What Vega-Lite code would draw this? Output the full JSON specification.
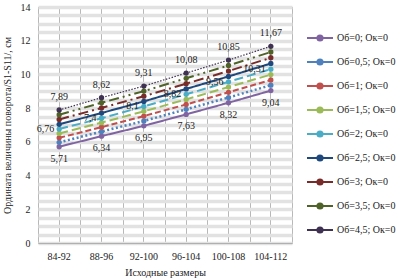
{
  "$schema": "https://vega.github.io/schema/vega-lite/v6.json",
  "autosize": "none",
  "width": 254,
  "height": 236,
  "padding": {"left": 38, "top": 7, "right": 106, "bottom": 35},
  "background": "white",
  "config": {
    "locale": {"number": {"decimal": ",", "thousands": " ", "grouping": [3], "currency": ["", ""]}},
    "view": {"stroke": "#b0b0b0", "fill": "white"},
    "font": "Liberation Serif",
    "axis": {"labelFont": "Liberation Serif", "titleFont": "Liberation Serif", "labelFontSize": 10, "titleFontSize": 10, "titleFontWeight": "normal", "labelColor": "#222", "titleColor": "#222"}
  },
  "data": {"values": [
    {"s": "Об=0; Ок=0", "x": "84-92", "v": 5.71}, {"s": "Об=0; Ок=0", "x": "88-96", "v": 6.34}, {"s": "Об=0; Ок=0", "x": "92-100", "v": 6.95}, {"s": "Об=0; Ок=0", "x": "96-104", "v": 7.63}, {"s": "Об=0; Ок=0", "x": "100-108", "v": 8.32}, {"s": "Об=0; Ок=0", "x": "104-112", "v": 9.04},
    {"s": "Об=0,5; Ок=0", "x": "84-92", "v": 5.97}, {"s": "Об=0,5; Ок=0", "x": "88-96", "v": 6.61}, {"s": "Об=0,5; Ок=0", "x": "92-100", "v": 7.24}, {"s": "Об=0,5; Ок=0", "x": "96-104", "v": 7.93}, {"s": "Об=0,5; Ок=0", "x": "100-108", "v": 8.63}, {"s": "Об=0,5; Ок=0", "x": "104-112", "v": 9.36},
    {"s": "Об=1; Ок=0", "x": "84-92", "v": 6.24}, {"s": "Об=1; Ок=0", "x": "88-96", "v": 6.87}, {"s": "Об=1; Ок=0", "x": "92-100", "v": 7.53}, {"s": "Об=1; Ок=0", "x": "96-104", "v": 8.22}, {"s": "Об=1; Ок=0", "x": "100-108", "v": 8.94}, {"s": "Об=1; Ок=0", "x": "104-112", "v": 9.67},
    {"s": "Об=1,5; Ок=0", "x": "84-92", "v": 6.5}, {"s": "Об=1,5; Ок=0", "x": "88-96", "v": 7.14}, {"s": "Об=1,5; Ок=0", "x": "92-100", "v": 7.81}, {"s": "Об=1,5; Ок=0", "x": "96-104", "v": 8.52}, {"s": "Об=1,5; Ок=0", "x": "100-108", "v": 9.25}, {"s": "Об=1,5; Ок=0", "x": "104-112", "v": 9.99},
    {"s": "Об=2; Ок=0", "x": "84-92", "v": 6.76}, {"s": "Об=2; Ок=0", "x": "88-96", "v": 7.4}, {"s": "Об=2; Ок=0", "x": "92-100", "v": 8.1}, {"s": "Об=2; Ок=0", "x": "96-104", "v": 8.82}, {"s": "Об=2; Ок=0", "x": "100-108", "v": 9.56}, {"s": "Об=2; Ок=0", "x": "104-112", "v": 10.31},
    {"s": "Об=2,5; Ок=0", "x": "84-92", "v": 7.04}, {"s": "Об=2,5; Ок=0", "x": "88-96", "v": 7.71}, {"s": "Об=2,5; Ок=0", "x": "92-100", "v": 8.4}, {"s": "Об=2,5; Ок=0", "x": "96-104", "v": 9.14}, {"s": "Об=2,5; Ок=0", "x": "100-108", "v": 9.88}, {"s": "Об=2,5; Ок=0", "x": "104-112", "v": 10.65},
    {"s": "Об=3; Ок=0", "x": "84-92", "v": 7.33}, {"s": "Об=3; Ок=0", "x": "88-96", "v": 8.01}, {"s": "Об=3; Ок=0", "x": "92-100", "v": 8.71}, {"s": "Об=3; Ок=0", "x": "96-104", "v": 9.45}, {"s": "Об=3; Ок=0", "x": "100-108", "v": 10.2}, {"s": "Об=3; Ок=0", "x": "104-112", "v": 10.99},
    {"s": "Об=3,5; Ок=0", "x": "84-92", "v": 7.61}, {"s": "Об=3,5; Ок=0", "x": "88-96", "v": 8.32}, {"s": "Об=3,5; Ок=0", "x": "92-100", "v": 9.01}, {"s": "Об=3,5; Ок=0", "x": "96-104", "v": 9.77}, {"s": "Об=3,5; Ок=0", "x": "100-108", "v": 10.53}, {"s": "Об=3,5; Ок=0", "x": "104-112", "v": 11.33},
    {"s": "Об=4,5; Ок=0", "x": "84-92", "v": 7.89}, {"s": "Об=4,5; Ок=0", "x": "88-96", "v": 8.62}, {"s": "Об=4,5; Ок=0", "x": "92-100", "v": 9.31}, {"s": "Об=4,5; Ок=0", "x": "96-104", "v": 10.08}, {"s": "Об=4,5; Ок=0", "x": "100-108", "v": 10.85}, {"s": "Об=4,5; Ок=0", "x": "104-112", "v": 11.67}
  ]},
  "encoding": {
    "y": {"field": "v", "type": "quantitative", "scale": {"domain": [0, 14], "nice": false},
      "axis": {"values": [0,0.5,1,1.5,2,2.5,3,3.5,4,4.5,5,5.5,6,6.5,7,7.5,8,8.5,9,9.5,10,10.5,11,11.5,12,12.5,13,13.5,14],
        "labelExpr": "datum.value % 2 == 0 ? format(datum.value, 'd') : ''", "ticks": false, "domain": false, "grid": true, "gridColor": "#e2e2e2", "gridWidth": 3.5, "labelPadding": 8,
        "title": "Ордината величины поворота/S1-S11/, см", "titlePadding": 8}}
  },
  "layer": [
    {
      "mark": {"type": "line"},
      "encoding": {
        "x": {"field": "x", "type": "ordinal", "sort": null, "scale": {"paddingInner": 0, "paddingOuter": 0},
          "axis": {"labelAngle": 0, "ticks": false, "grid": true, "gridColor": "#b8b8b8", "gridWidth": 1, "domainColor": "#b0b0b0", "labelPadding": 8, "title": "Исходные размеры", "titlePadding": 6}},
        "color": {"field": "s", "type": "nominal", "sort": null,
          "scale": {"range": ["#8064a2", "#4f81bd", "#c0504d", "#9bbb59", "#4bacc6", "#1f497d", "#772c2a", "#4f6228", "#3f3151"]},
          "legend": {"orient": "none", "legendX": 268, "legendY": 17, "title": null, "padding": 0,
            "symbolType": "M-1,0H1M-0.2,0A0.2,0.2,0,1,0,0.2,0A0.2,0.2,0,1,0,-0.2,0Z", "symbolSize": 676, "symbolStrokeWidth": 2,
            "labelFont": "Liberation Serif", "labelFontSize": 10, "labelColor": "#222", "labelOffset": 3, "rowPadding": 3, "labelLimit": 200,
            "encode": {"symbols": {"update": {"fill": {"scale": "color", "field": "value"}}}}}},
        "strokeDash": {"field": "s", "type": "nominal", "sort": null,
          "scale": {"range": [[1, 0], [2, 2.5], [6, 3], [9, 4], [9, 4], [1, 0], [10, 4, 2, 4], [10, 4, 2, 4, 2, 4], [1.5, 1.5]]},
          "legend": null},
        "strokeWidth": {"field": "s", "type": "ordinal", "sort": null,
          "scale": {"type": "ordinal", "range": [2, 2.5, 2, 2, 2, 2, 2, 2, 1.2]},
          "legend": null}
      }
    },
    {
      "mark": {"type": "point", "filled": true, "opacity": 1, "size": 28, "shape": "circle"},
      "encoding": {
        "x": {"field": "x", "type": "ordinal", "sort": null,
          "axis": {"tickBand": "extent", "grid": true, "gridColor": "#b8b8b8", "gridWidth": 1, "labels": false, "ticks": false, "domain": false, "title": null}},
        "color": {"field": "s", "type": "nominal", "sort": null, "legend": null}
      }
    },
    {
      "transform": [{"filter": "datum.s == 'Об=0; Ок=0'"}],
      "mark": {"type": "text", "baseline": "top", "dy": 7, "fontSize": 10, "font": "Liberation Serif", "color": "#222"},
      "encoding": {"x": {"field": "x", "type": "ordinal", "sort": null, "axis": null}, "text": {"field": "v", "type": "quantitative", "format": ".4~g"}}
    },
    {
      "transform": [{"filter": "datum.s == 'Об=4,5; Ок=0'"}],
      "mark": {"type": "text", "baseline": "bottom", "dy": -8, "fontSize": 10, "font": "Liberation Serif", "color": "#222"},
      "encoding": {"x": {"field": "x", "type": "ordinal", "sort": null, "axis": null}, "text": {"field": "v", "type": "quantitative", "format": ".4~g"}}
    },
    {
      "transform": [{"filter": "datum.s == 'Об=2; Ок=0'"}],
      "mark": {"type": "text", "baseline": "middle", "align": "right", "dx": -5, "fontSize": 10, "font": "Liberation Serif", "color": "#222"},
      "encoding": {"x": {"field": "x", "type": "ordinal", "sort": null, "axis": null}, "text": {"field": "v", "type": "quantitative", "format": ".4~g"}}
    }
  ],
  "resolve": {"axis": {"x": "independent"}}
}
